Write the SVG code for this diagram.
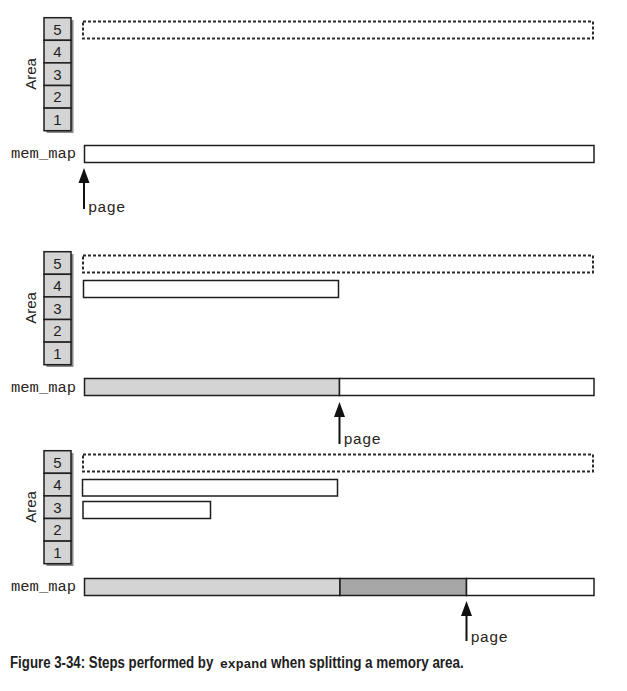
<svg xmlns="http://www.w3.org/2000/svg" width="627" height="691" viewBox="0 0 627 691">
<style>
.cell{fill:#d4d4d4;stroke:#1e1e1e;stroke-width:1.5}
.shadow{fill:#8a8a8a}
.num{font-family:"Liberation Sans Narrow","Liberation Sans",Arial,sans-serif;font-size:15px;fill:#1e1e1e;text-anchor:middle}
.area{font-family:"Liberation Sans Narrow","Liberation Sans",Arial,sans-serif;font-size:15px;fill:#1e1e1e;text-anchor:middle}
.dash{fill:none;stroke:#2a2a2a;stroke-width:2;stroke-dasharray:3 2}
.box{fill:#fff;stroke:#1e1e1e;stroke-width:1.5}
.light{fill:#d4d4d4;stroke:#1e1e1e;stroke-width:1.5}
.dark{fill:#a7a7a7;stroke:#1e1e1e;stroke-width:1.5}
.mono{font-family:"Liberation Mono","Courier New",monospace;font-size:15.5px;fill:#2a2520}
.arr{stroke:#111;stroke-width:2}
.cap{font-family:"Liberation Sans",Arial,sans-serif;font-size:16.5px;font-weight:bold;fill:#1e1e1e}
.capm{font-family:"Liberation Mono","Courier New",monospace;font-size:13px;font-weight:bold;fill:#1e1e1e}
</style>
<defs>
<g id="stack">
<rect class="shadow" x="46.5" y="20" width="27" height="113"/>
<rect class="cell" x="44" y="17.7" width="27" height="22.6"/>
<rect class="cell" x="44" y="40.3" width="27" height="22.6"/>
<rect class="cell" x="44" y="62.9" width="27" height="22.6"/>
<rect class="cell" x="44" y="85.5" width="27" height="22.6"/>
<rect class="cell" x="44" y="108.1" width="27" height="22.6"/>
<text class="num" x="57.5" y="34.5">5</text>
<text class="num" x="57.5" y="57.1">4</text>
<text class="num" x="57.5" y="79.7">3</text>
<text class="num" x="57.5" y="102.3">2</text>
<text class="num" x="57.5" y="124.9">1</text>
<text class="area" transform="translate(36,74) rotate(-90)">Area</text>
<rect class="dash" x="83" y="21.5" width="510" height="17"/>
<text class="mono" x="11" y="158">mem_map</text>
</g>
<path id="head" d="M0,0 L5.5,15 L-5.5,15 Z" fill="#111"/>
</defs>
<g id="panel1">
<use href="#stack"/>
<rect class="box" x="84.5" y="145.5" width="509.5" height="17"/>
<g id="arrow1">
<line class="arr" x1="84" y1="176" x2="84" y2="209"/>
<use href="#head" x="84" y="168"/>
<text class="mono" x="88" y="212">page</text>
</g>
</g>
<g id="panel2" transform="translate(0,234)">
<use href="#stack"/>
<rect class="box" x="83.5" y="46.5" width="255" height="17"/>
<rect class="light" x="84.5" y="144.5" width="255" height="17"/>
<rect class="box" x="339.5" y="144.5" width="254.5" height="17"/>
<g id="arrow2">
<line class="arr" x1="339.5" y1="176" x2="339.5" y2="210"/>
<use href="#head" x="339.5" y="168"/>
<text class="mono" x="343.5" y="210">page</text>
</g>
</g>
<g id="panel3" transform="translate(0,433)">
<use href="#stack"/>
<rect class="box" x="82.5" y="46.5" width="255" height="16.5"/>
<rect class="box" x="83" y="68.5" width="127.5" height="17"/>
<rect class="light" x="84.5" y="145.5" width="255.5" height="17"/>
<rect class="dark" x="340" y="145.5" width="126.5" height="17"/>
<rect class="box" x="466.5" y="145.5" width="127.5" height="17"/>
<g id="arrow3">
<line class="arr" x1="466.5" y1="176" x2="466.5" y2="208"/>
<use href="#head" x="466.5" y="168"/>
<text class="mono" x="470.5" y="209">page</text>
</g>
</g>
<g id="caption">
<text class="cap" transform="translate(10,667.5) scale(0.81,1)" x="0" y="0" textLength="251" lengthAdjust="spacingAndGlyphs">Figure 3-34: Steps performed by</text>
<text class="capm" x="220" y="667.5" textLength="47" lengthAdjust="spacingAndGlyphs">expand</text>
<text class="cap" transform="translate(271,667.5) scale(0.81,1)" x="0" y="0" textLength="238" lengthAdjust="spacingAndGlyphs">when splitting a memory area.</text>
</g>
</svg>
